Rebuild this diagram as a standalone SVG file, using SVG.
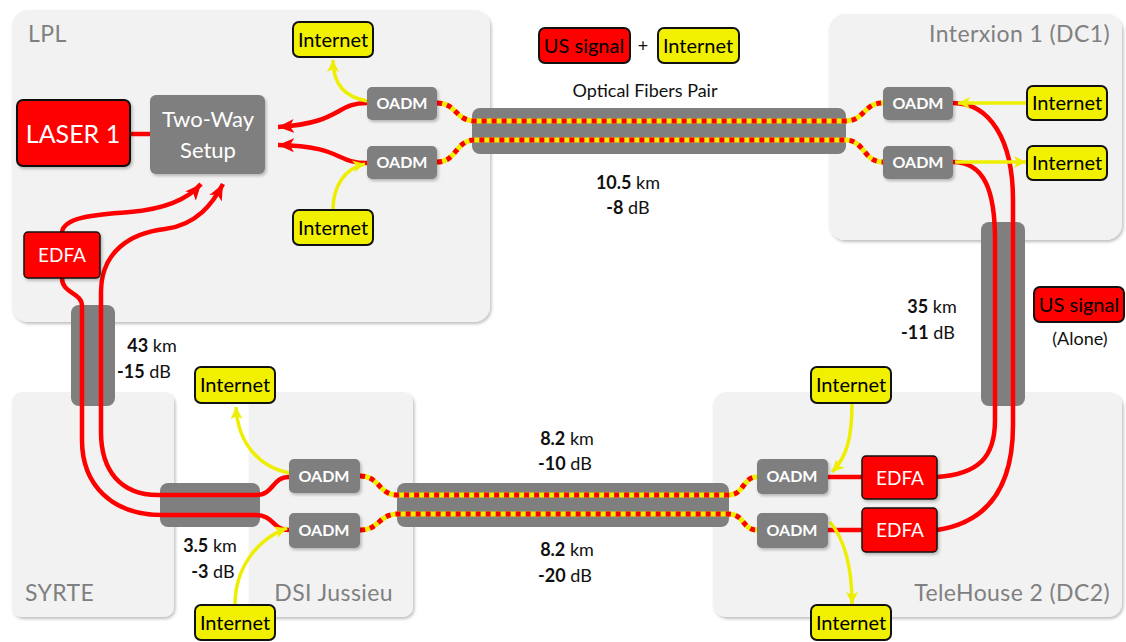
<svg xmlns="http://www.w3.org/2000/svg" width="1126" height="642" viewBox="0 0 1126 642">
<defs>
<filter id="sh" x="-10%" y="-10%" width="120%" height="120%">
<feDropShadow dx="1.5" dy="2" stdDeviation="1.5" flood-color="#000" flood-opacity="0.25"/>
</filter>
<marker id="ra" markerUnits="userSpaceOnUse" markerWidth="18" markerHeight="16" refX="16" refY="8" orient="auto">
<path d="M0,1 L16,8 L0,15 L4,8 z" fill="#ff0000"/>
</marker>
<marker id="ya" markerUnits="userSpaceOnUse" markerWidth="14" markerHeight="14" refX="12" refY="7" orient="auto">
<path d="M0,1 L12,7 L0,13 L3,7 z" fill="#eeee00"/>
</marker>
</defs>
<style>
.panel{fill:#f2f2f2;filter:url(#sh)}
.ptitle{font-family:Lato,"Open Sans",sans-serif;font-size:23px;letter-spacing:0.4px;fill:#808080}
.cable{fill:#7f7f7f}
.oadm{fill:#7f7f7f;filter:url(#sh)}
.oadmt{font-family:Lato,"Open Sans",sans-serif;font-size:16px;font-weight:bold;fill:#fff;text-anchor:middle}
.inet{fill:#f0f000;stroke:#111;stroke-width:2}
.inett{font-family:Lato,"Open Sans",sans-serif;font-size:20px;fill:#000;text-anchor:middle}
.redbox{fill:#ff0000;stroke:#111;stroke-width:2;filter:url(#sh)}
.edfa{fill:#ff0000;stroke:#111;stroke-width:1.5;filter:url(#sh)}
.wt{font-family:Lato,"Open Sans",sans-serif;fill:#fff;text-anchor:middle}
.lbl{font-family:Lato,"Open Sans",sans-serif;font-size:18px;fill:#111;text-anchor:middle}
.red{fill:none;stroke:#ff0000;stroke-width:4.5}
.yel{fill:none;stroke:#eeee00;stroke-width:3.5}
.dy{fill:none;stroke:#eeee00;stroke-width:5}
.dr{fill:none;stroke:#ff0000;stroke-width:5;stroke-dasharray:5 5}
</style>

<!-- panels -->
<g id="panel-lpl"><rect class="panel" x="12" y="10" width="478" height="312" rx="16"/><text class="ptitle" x="28" y="42">LPL</text></g>
<g id="panel-interxion"><rect class="panel" x="829" y="14" width="293" height="226" rx="16"/><text class="ptitle" x="1110" y="42" text-anchor="end">Interxion 1 (DC1)</text></g>
<g id="panel-syrte"><rect class="panel" x="12" y="392" width="162" height="225" rx="10"/><text class="ptitle" x="25" y="601">SYRTE</text></g>
<g id="panel-dsi"><rect class="panel" x="249" y="392" width="164" height="225" rx="10"/><text class="ptitle" x="393" y="601" text-anchor="end">DSI Jussieu</text></g>
<g id="panel-telehouse"><rect class="panel" x="713" y="392" width="409" height="225" rx="14"/><text class="ptitle" x="1110" y="601" text-anchor="end">TeleHouse 2 (DC2)</text></g>

<!-- cables -->
<g id="cables">
<rect class="cable" x="472" y="108" width="374" height="46" rx="8"/>
<rect class="cable" x="71" y="305" width="44" height="101" rx="8"/>
<rect class="cable" x="160" y="483" width="100" height="44" rx="8"/>
<rect class="cable" x="397" y="483" width="332" height="44" rx="8"/>
<rect class="cable" x="981" y="222" width="44" height="184" rx="8"/>
</g>

<!-- connectors -->
<g id="connectors">
<path class="red" d="M130,134 L150,134"/>
<path class="red" d="M367,103 C335,103 342,123 278,127" marker-end="url(#ra)"/>
<path class="red" d="M367,163 C335,163 342,146 278,145" marker-end="url(#ra)"/>
<path class="yel" d="M367,101 C346,97 333,86 333,60" marker-end="url(#ya)"/>
<path class="yel" d="M333,210 C333,186 345,168 365,164" marker-end="url(#ya)"/>
<path class="red" d="M62,232 C64,218 90,215 130,212 C165,209 188,199 201,184" marker-end="url(#ra)"/>
<path class="red" d="M289,477 C272,477 274,495 256,495 L158,495 C120,495 101,470 101,432 L101,292 C101,252 130,233 165,229 C197,225 213,203 223,184" marker-end="url(#ra)"/>
<path class="red" d="M289,530 C272,530 274,515 256,515 L162,515 C112,515 82,485 82,440 L82,306 C82,292 62,294 62,278"/>
<path class="yel" d="M289,473 C262,468 238,446 236,407" marker-end="url(#ya)"/>
<path class="yel" d="M235,605 C235,570 255,540 287,528" marker-end="url(#ya)"/>
<path class="dy" d="M437,103 C457,103 455,121 475,121 L845,121 C865,121 863,103 883,103"/>
<path class="dr" d="M437,103 C457,103 455,121 475,121 L845,121 C865,121 863,103 883,103"/>
<path class="dy" d="M437,162 C457,162 455,140 475,140 L845,140 C865,140 863,162 883,162"/>
<path class="dr" d="M437,162 C457,162 455,140 475,140 L845,140 C865,140 863,162 883,162"/>
<path class="dy" d="M360,476 C380,476 378,495 398,495 L728,495 C745,495 742,477 757,477"/>
<path class="dr" d="M360,476 C380,476 378,495 398,495 L728,495 C745,495 742,477 757,477"/>
<path class="dy" d="M360,530 C380,530 378,514 398,514 L728,514 C745,514 742,530 757,530"/>
<path class="dr" d="M360,530 C380,530 378,514 398,514 L728,514 C745,514 742,530 757,530"/>
<path class="red" d="M953,103 C990,103 1013,140 1013,200 L1013,425 C1013,485 990,522 937,530"/>
<path class="red" d="M953,162 C985,162 995,192 995,240 L995,420 C995,458 978,474 937,477"/>
<path class="yel" d="M1027,103 L958,103" marker-end="url(#ya)"/>
<path class="yel" d="M955,162 L1026,162" marker-end="url(#ya)"/>
<path class="red" d="M828,477 L862,477"/>
<path class="red" d="M828,530 L862,530"/>
<path class="yel" d="M852,403 C852,440 846,458 832,472" marker-end="url(#ya)"/>
<path class="yel" d="M830,522 C845,540 852,570 852,604" marker-end="url(#ya)"/>
</g>

<!-- nodes -->
<g id="laser1"><rect class="redbox" x="17" y="100" width="113" height="66" rx="6"/><text class="wt" x="73" y="143" font-size="25">LASER 1</text></g>
<g id="twoway"><rect class="oadm" x="150" y="95" width="115" height="79" rx="6"/><text class="wt" x="208" y="127" font-size="22">Two-Way</text><text class="wt" x="208" y="158" font-size="22">Setup</text></g>
<g id="edfa-lpl"><rect class="edfa" x="24" y="232" width="76" height="46" rx="4"/><text class="wt" x="62" y="262" font-size="19">EDFA</text></g>

<g id="oadm-lpl-1"><rect class="oadm" x="367" y="87" width="70" height="33" rx="5"/><text class="oadmt" x="402" y="109">OADM</text></g>
<g id="oadm-lpl-2"><rect class="oadm" x="367" y="146" width="70" height="33" rx="5"/><text class="oadmt" x="402" y="168">OADM</text></g>
<g id="inet-lpl-1"><rect class="inet" x="293" y="22" width="80" height="35" rx="6"/><text class="inett" x="333" y="47">Internet</text></g>
<g id="inet-lpl-2"><rect class="inet" x="293" y="210" width="80" height="35" rx="6"/><text class="inett" x="333" y="235">Internet</text></g>

<g id="legend-us"><rect class="inet" style="fill:#ff0000" x="539" y="28" width="91" height="35" rx="6"/><text class="inett" x="584" y="53">US signal</text></g>
<g id="legend-plus"><text class="lbl" x="643" y="52">+</text></g>
<g id="legend-inet"><rect class="inet" x="658" y="28" width="81" height="35" rx="6"/><text class="inett" x="698" y="53">Internet</text></g>

<g id="oadm-dc1-1"><rect class="oadm" x="883" y="87" width="70" height="33" rx="5"/><text class="oadmt" x="918" y="109">OADM</text></g>
<g id="oadm-dc1-2"><rect class="oadm" x="883" y="146" width="70" height="33" rx="5"/><text class="oadmt" x="918" y="168">OADM</text></g>
<g id="inet-dc1-1"><rect class="inet" x="1027" y="86" width="80" height="34" rx="6"/><text class="inett" x="1067" y="110">Internet</text></g>
<g id="inet-dc1-2"><rect class="inet" x="1027" y="146" width="80" height="34" rx="6"/><text class="inett" x="1067" y="170">Internet</text></g>

<g id="us-alone"><rect class="inet" style="fill:#ff0000" x="1034" y="287" width="90" height="35" rx="6"/><text class="inett" x="1079" y="312">US signal</text><text class="lbl" x="1080" y="345" font-size="20">(Alone)</text></g>

<g id="oadm-dsi-1"><rect class="oadm" x="289" y="459" width="71" height="34" rx="5"/><text class="oadmt" x="324" y="482">OADM</text></g>
<g id="oadm-dsi-2"><rect class="oadm" x="289" y="513" width="71" height="35" rx="5"/><text class="oadmt" x="324" y="536">OADM</text></g>
<g id="inet-dsi-1"><rect class="inet" x="195" y="367" width="80" height="36" rx="6"/><text class="inett" x="235" y="392">Internet</text></g>
<g id="inet-dsi-2"><rect class="inet" x="195" y="605" width="80" height="35" rx="6"/><text class="inett" x="235" y="630">Internet</text></g>

<g id="oadm-dc2-1"><rect class="oadm" x="757" y="459" width="71" height="35" rx="5"/><text class="oadmt" x="792" y="482">OADM</text></g>
<g id="oadm-dc2-2"><rect class="oadm" x="757" y="513" width="71" height="35" rx="5"/><text class="oadmt" x="792" y="536">OADM</text></g>
<g id="edfa-dc2-1"><rect class="edfa" x="862" y="456" width="75" height="43" rx="4"/><text class="wt" x="900" y="485" font-size="19">EDFA</text></g>
<g id="edfa-dc2-2"><rect class="edfa" x="862" y="508" width="75" height="44" rx="4"/><text class="wt" x="900" y="537" font-size="19">EDFA</text></g>
<g id="inet-dc2-1"><rect class="inet" x="811" y="367" width="80" height="36" rx="6"/><text class="inett" x="851" y="392">Internet</text></g>
<g id="inet-dc2-2"><rect class="inet" x="811" y="605" width="80" height="35" rx="6"/><text class="inett" x="851" y="630">Internet</text></g>

<!-- labels -->
<g id="labels">
<text class="lbl" x="645" y="97" font-size="15">Optical Fibers Pair</text>
<text class="lbl" x="628" y="189"><tspan font-weight="bold">10.5</tspan> km</text>
<text class="lbl" x="628" y="214"><tspan font-weight="bold">-8</tspan> dB</text>
<text class="lbl" x="152" y="352" font-size="19"><tspan font-weight="bold">43</tspan> km</text>
<text class="lbl" x="144" y="378" font-size="19"><tspan font-weight="bold">-15</tspan> dB</text>
<text class="lbl" x="210" y="552" font-size="19"><tspan font-weight="bold">3.5</tspan> km</text>
<text class="lbl" x="213" y="578" font-size="19"><tspan font-weight="bold">-3</tspan> dB</text>
<text class="lbl" x="567" y="445"><tspan font-weight="bold">8.2</tspan> km</text>
<text class="lbl" x="565" y="470"><tspan font-weight="bold">-10</tspan> dB</text>
<text class="lbl" x="567" y="556"><tspan font-weight="bold">8.2</tspan> km</text>
<text class="lbl" x="565" y="582"><tspan font-weight="bold">-20</tspan> dB</text>
<text class="lbl" x="932" y="313" font-size="19"><tspan font-weight="bold">35</tspan> km</text>
<text class="lbl" x="928" y="339" font-size="19"><tspan font-weight="bold">-11</tspan> dB</text>
</g>
</svg>
